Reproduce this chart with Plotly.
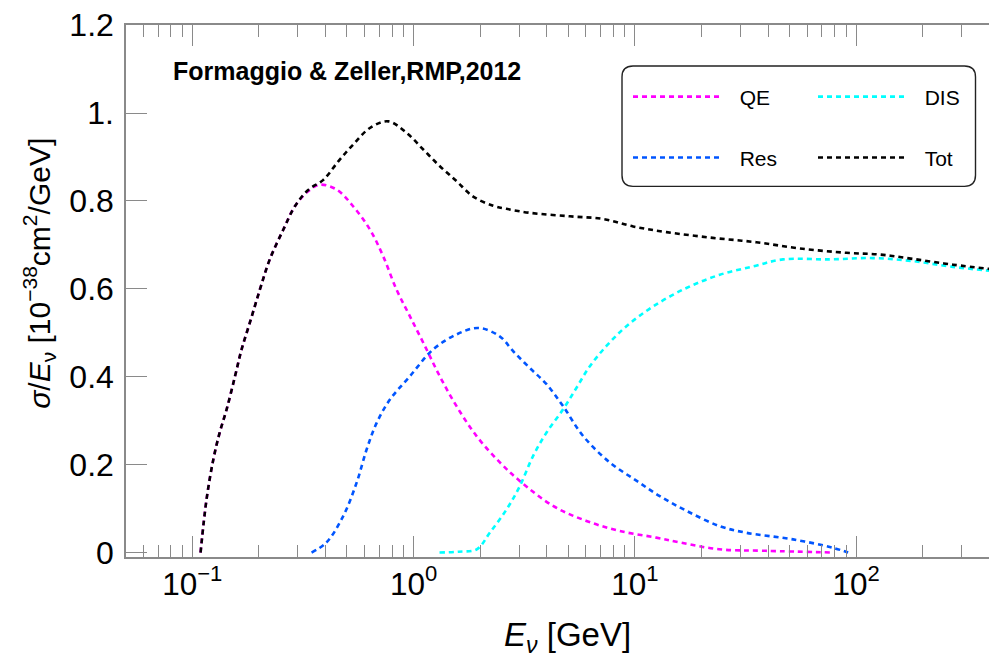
import plotly.graph_objects as go

# ---------------- data ----------------
e_qe = [0.109, 0.116, 0.1245, 0.133, 0.143, 0.156, 0.167, 0.182, 0.202, 0.224, 0.258, 0.291,
        0.334, 0.377, 0.449, 0.533, 0.635, 0.729, 0.838, 0.962, 1.125, 1.314, 1.564, 1.926,
        2.455, 3.02, 4.27, 6.04, 8.55, 12.5, 16.0, 24.0, 39.0, 80.0]
sig_qe = [0.0, 0.121, 0.212, 0.273, 0.326, 0.401, 0.462, 0.523, 0.598, 0.667, 0.735, 0.788,
          0.822, 0.837, 0.826, 0.788, 0.735, 0.674, 0.598, 0.538, 0.470, 0.401, 0.333, 0.265,
          0.205, 0.163, 0.106, 0.072, 0.049, 0.034, 0.023, 0.0075, 0.004, 0.0]

e_res = [0.346, 0.404, 0.481, 0.553, 0.614, 0.681, 0.782, 0.962, 1.225, 1.56, 1.96, 2.45,
         2.82, 3.35, 3.99, 4.74, 5.84, 7.71, 10.2, 12.9, 17.1, 24.2, 31.9, 51.9, 78.5, 92.0]
sig_res = [0.0, 0.023, 0.083, 0.159, 0.235, 0.295, 0.348, 0.401, 0.462, 0.496, 0.511, 0.492,
           0.458, 0.420, 0.383, 0.333, 0.265, 0.205, 0.163, 0.129, 0.095, 0.060, 0.045, 0.030,
           0.011, 0.0]

e_dis = [1.31, 1.6, 1.93, 2.21, 2.63, 3.02, 3.47, 3.99, 4.74, 5.45, 6.26, 7.44, 9.16, 12.1,
         17.1, 24.2, 34.2, 46.7, 75.9, 119.0, 181.0, 274.0, 423.0]
sig_dis = [0.0, 0.002, 0.0075, 0.045, 0.098, 0.151, 0.220, 0.273, 0.326, 0.375, 0.424, 0.470,
           0.515, 0.560, 0.602, 0.632, 0.651, 0.667, 0.667, 0.670, 0.663, 0.650, 0.640]

e_tot = [0.109, 0.116, 0.1245, 0.133, 0.143, 0.156, 0.167, 0.182, 0.202, 0.224, 0.258, 0.291,
         0.334, 0.391, 0.457, 0.533, 0.635, 0.768, 0.929, 1.106, 1.315, 1.564, 1.86, 2.29,
         2.63, 3.35, 5.08, 7.19, 9.82, 13.9, 22.5, 35.4, 55.6, 90.3, 128.0, 181.0, 274.0, 423.0]
sig_tot = [0.0, 0.121, 0.212, 0.273, 0.326, 0.401, 0.462, 0.523, 0.598, 0.667, 0.735, 0.788,
           0.825, 0.848, 0.890, 0.928, 0.966, 0.981, 0.955, 0.917, 0.879, 0.845, 0.810, 0.789,
           0.782, 0.773, 0.765, 0.759, 0.742, 0.729, 0.716, 0.706, 0.692, 0.682, 0.678, 0.668,
           0.655, 0.644]

x_major = [0.1, 1, 10, 100]
x_major_text = ["10<sup>\u22121</sup>", "10<sup>0</sup>", "10<sup>1</sup>", "10<sup>2</sup>"]
x_minor = [m * 10.0 ** k for k in range(-2, 3) for m in range(2, 10)]
x_minor = [v for v in x_minor if 0.0502 < v < 429]
y_major = [0, 0.2, 0.4, 0.6, 0.8, 1.0, 1.2]
y_major_text = ["0", "0.2", "0.4", "0.6", "0.8", "1.", "1.2"]

# ---------------- styling / layout ----------------
OFF = 8                      # default page margin of the html body
W, H = 997 - OFF, 662 - OFF  # figure size so it fits the window
ML, MT = 126 - OFF, 25 - OFF
PRIGHT, PBOT = 996 - OFF, 557.5 - OFF
MR, MB = W - PRIGHT, H - PBOT
PW, PH = PRIGHT - ML, PBOT - MT
FONT = "Liberation Sans, Arial, Helvetica, sans-serif"
AX = "#8a8a8a"
DASH = "5px,4px"
LW = 2.6


def px(x):  # screen px -> paper
    return (x - OFF - ML) / PW


def py(y):
    return (PBOT - (y - OFF)) / PH


fig = go.Figure()

series = [
    ("QE", e_qe, sig_qe, "#ff00ff", "legend"),
    ("DIS", e_dis, sig_dis, "#00ffff", "legend"),
    ("Res", e_res, sig_res, "#0055ff", "legend2"),
    ("Tot", e_tot, sig_tot, "#000000", "legend2"),
]
for name, xs, ys, col, lg in series:
    fig.add_trace(go.Scatter(
        x=xs, y=ys, name="\u00a0\u00a0" + name, mode="lines", legend=lg,
        line=dict(color=col, width=LW, dash=DASH, shape="spline", smoothing=1.0),
        hoverinfo="skip"))

# invisible trace to activate the right-hand tick axis
fig.add_trace(go.Scatter(x=e_tot[:1], y=sig_tot[:1], yaxis="y2", mode="lines",
                         showlegend=False, hoverinfo="skip",
                         line=dict(width=0, color="rgba(0,0,0,0)")))

xr = [-1.2995, 2.632]
yr = [-0.0101, 1.2003]

fig.update_layout(
    width=W, height=H,
    margin=dict(l=ML, r=MR, t=MT, b=MB, autoexpand=False),
    paper_bgcolor="white", plot_bgcolor="white",
    font=dict(family=FONT, color="black"),
    xaxis=dict(
        type="log", range=xr, tickmode="array", tickvals=x_major, ticktext=x_major_text,
        ticks="inside", ticklen=21, tickwidth=1.4, tickcolor=AX, automargin=False,
        showline=True, linecolor=AX, linewidth=1.5, mirror="ticks",
        showgrid=False, zeroline=False,
        tickfont=dict(size=31.5, family=FONT, color="black"), ticklabelstandoff=-2,
        minor=dict(tickmode="array", tickvals=x_minor, ticks="inside", ticklen=12,
                   tickwidth=1.2, tickcolor=AX, showgrid=False),
    ),
    yaxis=dict(
        range=yr, tickmode="array", tickvals=y_major, ticktext=y_major_text,
        ticks="inside", ticklen=21, tickwidth=1.4, tickcolor=AX, automargin=False,
        showline=True, linecolor=AX, linewidth=1.5, mirror=True,
        showgrid=False, zeroline=False, ticklabeloverflow="allow",
        tickfont=dict(size=32, family=FONT, color="black"), ticklabelstandoff=4,
    ),
    yaxis2=dict(
        range=yr, overlaying="y", side="right", tickmode="array", tickvals=y_major,
        ticks="inside", ticklen=7, tickwidth=1.4, tickcolor=AX, showticklabels=False,
        showline=False, showgrid=False, zeroline=False, automargin=False,
    ),
    legend=dict(
        orientation="h", x=px(628), y=py(97), xanchor="left", yanchor="middle",
        itemwidth=90, entrywidth=80, bgcolor="rgba(0,0,0,0)", borderwidth=0,
        font=dict(size=21, family=FONT, color="black"), itemclick=False,
    ),
    legend2=dict(
        orientation="h", x=px(628), y=py(158), xanchor="left", yanchor="middle",
        itemwidth=90, entrywidth=80, bgcolor="rgba(0,0,0,0)", borderwidth=0,
        font=dict(size=21, family=FONT, color="black"), itemclick=False,
    ),
)

# rounded legend frame
bx0, bx1, by0, by1, r = 622, 975.5, 66, 186.5, 11
path = (f"M{px(bx0 + r)},{py(by0)} L{px(bx1 - r)},{py(by0)} "
        f"Q{px(bx1)},{py(by0)} {px(bx1)},{py(by0 + r)} "
        f"L{px(bx1)},{py(by1 - r)} Q{px(bx1)},{py(by1)} {px(bx1 - r)},{py(by1)} "
        f"L{px(bx0 + r)},{py(by1)} Q{px(bx0)},{py(by1)} {px(bx0)},{py(by1 - r)} "
        f"L{px(bx0)},{py(by0 + r)} Q{px(bx0)},{py(by0)} {px(bx0 + r)},{py(by0)} Z")
fig.add_shape(type="path", path=path, xref="paper", yref="paper",
              line=dict(color="#222222", width=1.4), fillcolor="rgba(0,0,0,0)")

fig.add_annotation(text="<b>Formaggio & Zeller,RMP,2012</b>", xref="paper", yref="paper",
                   x=px(171), y=py(71), xanchor="left", yanchor="middle", showarrow=False,
                   font=dict(size=25, family=FONT, color="black"))

fig.add_annotation(text="<i>E</i><sub><i>\u03bd</i></sub> [GeV]", xref="paper", yref="paper",
                   x=px(567), y=py(638), xanchor="center", yanchor="middle", showarrow=False,
                   font=dict(size=33, family=FONT, color="black"))

fig.add_annotation(text="<i>\u03c3</i>/<i>E</i><sub>\u03bd</sub> [10<sup>\u221238</sup>cm<sup>2</sup>/GeV]",
                   xref="paper", yref="paper", x=px(39), y=py(274), xanchor="center",
                   yanchor="middle", textangle=-90, showarrow=False,
                   font=dict(size=30, family=FONT, color="black"))

fig.write_html("out.html")
